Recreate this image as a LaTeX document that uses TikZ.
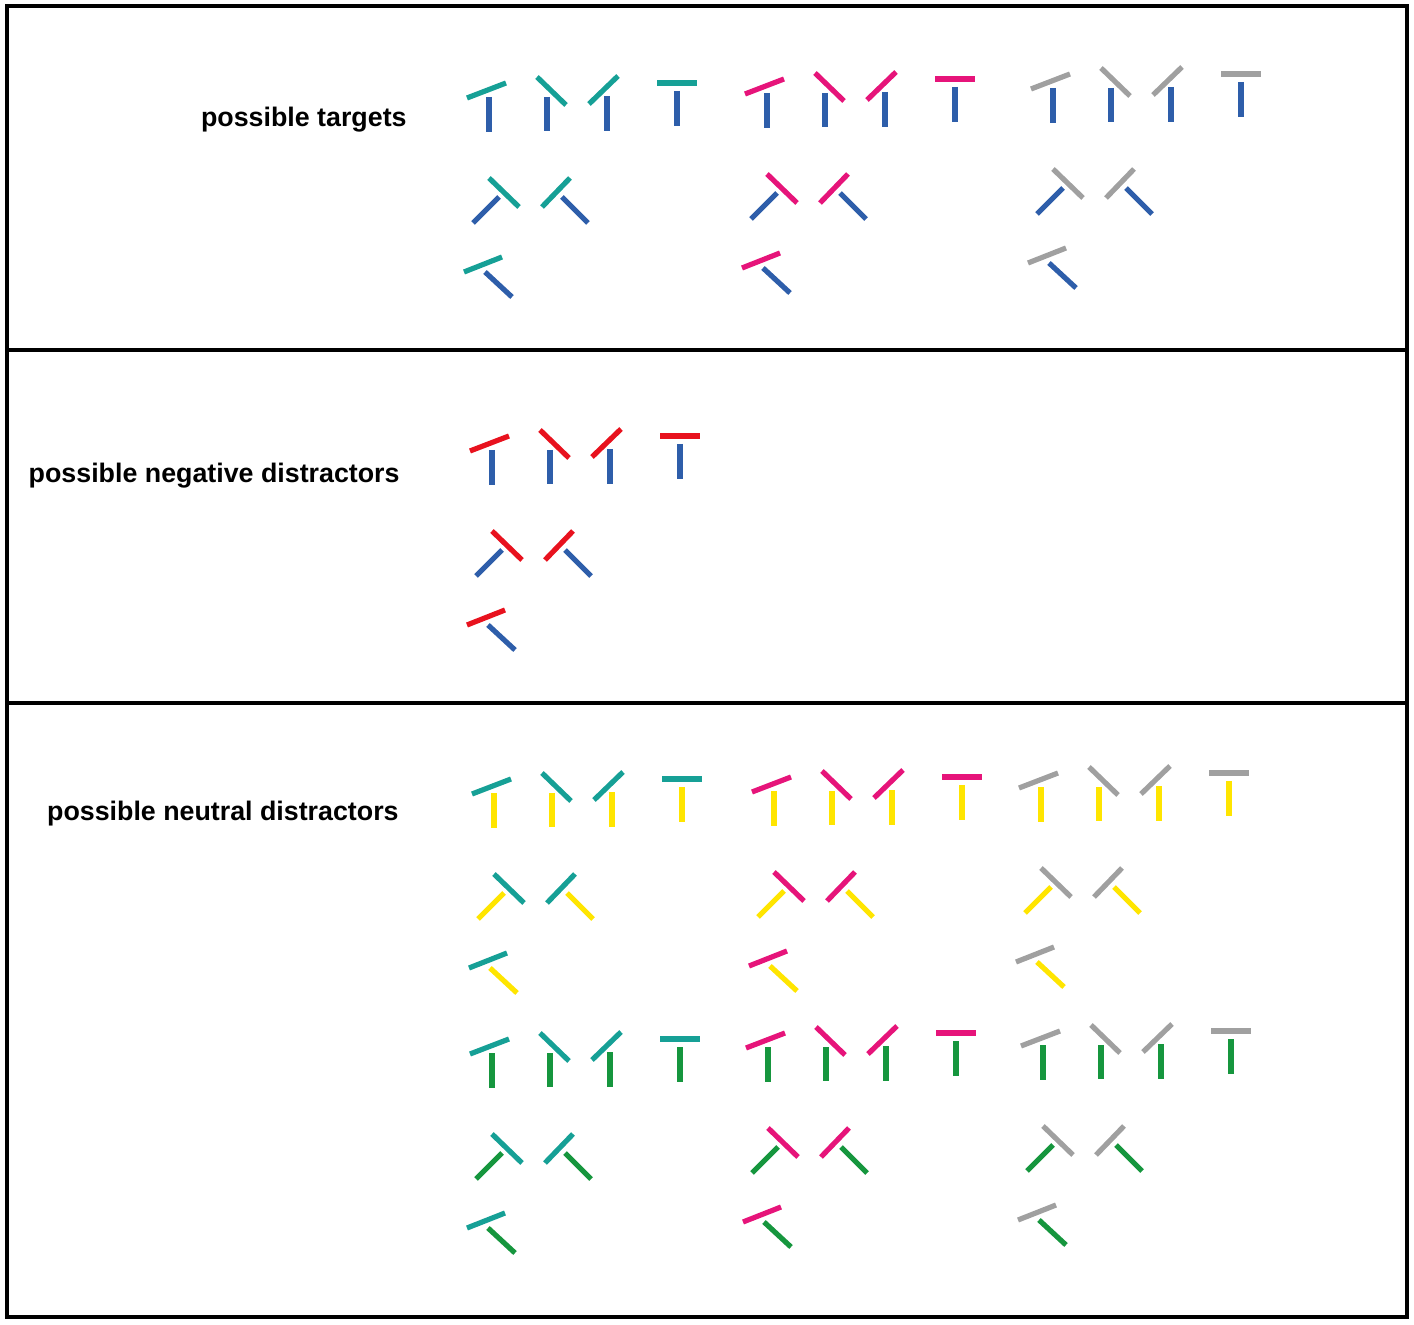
\documentclass[tikz,border=0pt]{standalone}
\usepackage{fontspec}
\setmainfont{Liberation Sans}
\definecolor{tealc}{RGB}{22,160,150}
\definecolor{magc}{RGB}{230,20,122}
\definecolor{greyc}{RGB}{160,160,160}
\definecolor{bluec}{RGB}{46,94,170}
\definecolor{redc}{RGB}{232,18,30}
\definecolor{yelc}{RGB}{255,229,0}
\definecolor{grnc}{RGB}{22,150,62}
\tikzset{
  bar/.style={line width=2.6pt, line cap=butt},
  lbl/.style={font=\fontsize{13.4}{16}\selectfont\bfseries, anchor=east, inner sep=0pt},
  frame/.style={line width=1.6pt}
}
% one set of seven bar pairs, #1 = top bar colour, #2 = stem colour
\newcommand{\tset}[2]{%
  \draw[bar,#1] (-22,1) -- (17,-14);   \draw[bar,#2] (0,0) -- (0,35);
  \draw[bar,#1] (48,-20) -- (77,8);    \draw[bar,#2] (58,0) -- (58,34);
  \draw[bar,#1] (100,7) -- (129,-21);  \draw[bar,#2] (118,-1) -- (118,34);
  \draw[bar,#1] (168,-14) -- (208,-14);\draw[bar,#2] (188,-6) -- (188,29);
  \draw[bar,#1] (0,81) -- (30,110);    \draw[bar,#2] (10,100) -- (-16,126);
  \draw[bar,#1] (53,110) -- (81,81);   \draw[bar,#2] (73,100) -- (99,126);
  \draw[bar,#1] (-25,175) -- (13,160); \draw[bar,#2] (-4,175) -- (23,200);
}
\begin{document}
\begin{tikzpicture}[x=0.5pt, y=-0.5pt]
    \useasboundingbox (0,0) rectangle (1414,1325);
    % panels
    \draw[frame] (7,6) rectangle (1407,1317);
    \draw[frame] (7,350) -- (1407,350);
    \draw[frame] (7,703) -- (1407,703);
    % labels
    \node[lbl] (targets) at (407,120) {possible targets};
    \node[lbl] (negative) at (400,476) {possible negative distractors};
    \node[lbl] (neutral) at (399,814) {possible neutral distractors};
    % targets
    \begin{scope}[shift={(489,97)}]
      \tset{tealc}{bluec}
    \end{scope}
    \begin{scope}[shift={(767,93)}]
      \tset{magc}{bluec}
    \end{scope}
    \begin{scope}[shift={(1053,88)}]
      \tset{greyc}{bluec}
    \end{scope}
    % negative distractors
    \begin{scope}[shift={(492,450)}]
      \tset{redc}{bluec}
    \end{scope}
    % neutral distractors, yellow
    \begin{scope}[shift={(494,793)}]
      \tset{tealc}{yelc}
    \end{scope}
    \begin{scope}[shift={(774,791)}]
      \tset{magc}{yelc}
    \end{scope}
    \begin{scope}[shift={(1041,787)}]
      \tset{greyc}{yelc}
    \end{scope}
    % neutral distractors, green
    \begin{scope}[shift={(492,1053)}]
      \tset{tealc}{grnc}
    \end{scope}
    \begin{scope}[shift={(768,1047)}]
      \tset{magc}{grnc}
    \end{scope}
    \begin{scope}[shift={(1043,1045)}]
      \tset{greyc}{grnc}
    \end{scope}
\end{tikzpicture}
\end{document}
